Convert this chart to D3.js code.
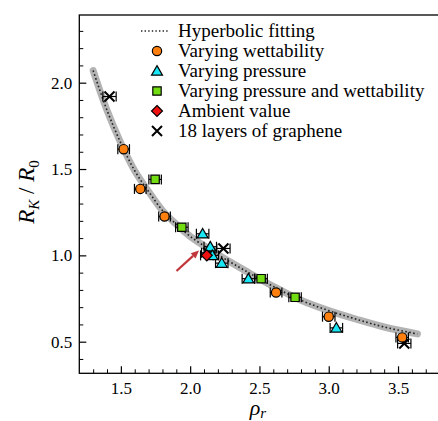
<!DOCTYPE html>
<html>
<head>
<meta charset="utf-8">
<script src="https://cdn.jsdelivr.net/npm/d3@7"></script>
<style>
  html, body { margin: 0; padding: 0; background: #fff; }
  svg { display: block; }
  svg text { font-family: 'Liberation Serif' !important; }
</style>
</head>
<body>
<svg id="chart" width="438" height="421"></svg>
<script>
// Hyperbolic fit, sampled along rho_r
const fitX = [1.30, 1.40, 1.50, 1.60, 1.70, 1.80, 1.90, 2.00, 2.15, 2.25, 2.40, 2.60, 2.80, 3.00, 3.20, 3.40, 3.64];
const fitY = [2.07, 1.84, 1.65, 1.49, 1.37, 1.26, 1.18, 1.11, 1.03, 0.98, 0.91, 0.82, 0.74, 0.68, 0.63, 0.585, 0.545];

// Varying wettability
const wetX   = [1.52, 1.64, 1.815, 2.62, 3.00, 3.53];
const wetY   = [1.615, 1.385, 1.225, 0.785, 0.645, 0.525];
const wetErr = [0.042, 0.042, 0.042, 0.042, 0.045, 0.045];

// Varying pressure
const presX   = [2.09, 2.145, 2.16, 2.228, 2.42, 3.055];
const presY   = [1.125, 1.05, 1.0, 0.955, 0.865, 0.58];
const presErr = [0.045, 0.045, 0.045, 0.045, 0.045, 0.045];

// Varying pressure and wettability
const bothX   = [1.747, 1.94, 2.512, 2.757];
const bothY   = [1.44, 1.163, 0.865, 0.757];
const bothErr = [0.045, 0.045, 0.045, 0.045];

// Ambient value
const ambX = [2.12];
const ambY = [1.0];
const ambErr = [0.045];

// 18 layers of graphene
const grX   = [1.418, 2.13, 2.24, 3.545];
const grY   = [1.92, 1.015, 1.04, 0.49];
const grErr = [0.048, 0.048, 0.048, 0.048];

const xTicks = [1.5, 2.0, 2.5, 3.0, 3.5];
const yTicks = [0.5, 1.0, 1.5, 2.0];

const legendLabels = [
  "Hyperbolic fitting",
  "Varying wettability",
  "Varying pressure",
  "Varying pressure and wettability",
  "Ambient value",
  "18 layers of graphene"
];

const svg = d3.select("#chart");
const L = 79.3, R = 439.6, T = 15, B = 373.3;

const x = d3.scaleLinear().domain([1.2, 3.8]).range([L, R]);
const y = d3.scaleLinear().domain([0.317, 2.392]).range([B, T]);

// frame
svg.append("rect")
  .attr("x", L).attr("y", T).attr("width", R - L).attr("height", B - T)
  .attr("fill", "none").attr("stroke", "#000").attr("stroke-width", 1.3);

// ticks (inward)
const minorX = d3.range(13, 38).map(d => d / 10).filter(v => !xTicks.some(t => Math.abs(t - v) < 1e-6));
const minorY = d3.range(4, 24).map(d => d / 10).filter(v => !yTicks.some(t => Math.abs(t - v) < 1e-6));

function styleAxis(g) {
  g.attr("font-family", null).attr("font-size", null);
  g.select(".domain").remove();
}

const gx = svg.append("g").attr("transform", `translate(0,${B})`)
  .call(d3.axisBottom(x).tickValues(xTicks).tickFormat(d3.format(".1f")).tickSize(-7).tickPadding(9));
styleAxis(gx);
gx.selectAll(".tick line").attr("stroke-width", 1.2);
gx.selectAll(".tick text").attr("font-size", 17).attr("fill", "#000");
const gxm = svg.append("g").attr("transform", `translate(0,${B})`)
  .call(d3.axisBottom(x).tickValues(minorX).tickSize(-4).tickFormat(""));
styleAxis(gxm);
gxm.selectAll(".tick line").attr("stroke-width", 1);

const gy = svg.append("g").attr("transform", `translate(${L},0)`)
  .call(d3.axisLeft(y).tickValues(yTicks).tickFormat(d3.format(".1f")).tickSize(-7).tickPadding(7));
styleAxis(gy);
gy.selectAll(".tick line").attr("stroke-width", 1.2);
gy.selectAll(".tick text").attr("font-size", 17).attr("fill", "#000");
const gym = svg.append("g").attr("transform", `translate(${L},0)`)
  .call(d3.axisLeft(y).tickValues(minorY).tickSize(-4).tickFormat(""));
styleAxis(gym);
gym.selectAll(".tick line").attr("stroke-width", 1);

// axis titles
const yl = svg.append("text")
  .attr("transform", `translate(34,192) rotate(-90)`)
  .attr("text-anchor", "middle").attr("font-size", 23).attr("font-style", "italic");
yl.append("tspan").text("R");
yl.append("tspan").attr("font-size", 15).attr("dy", 5).text("K");
yl.append("tspan").attr("dy", -5).attr("font-style", "normal").text(" / ");
yl.append("tspan").text("R");
yl.append("tspan").attr("font-size", 15).attr("dy", 5).attr("font-style", "normal").text("0");

const xl = svg.append("text")
  .attr("x", 258).attr("y", 415)
  .attr("text-anchor", "middle").attr("font-size", 22).attr("font-style", "italic");
xl.append("tspan").text("ρ");
xl.append("tspan").attr("font-size", 15).attr("dy", 3).text("r");

// fitted curve: grey band with dotted line
const fitPts = fitX.map((v, i) => [v, fitY[i]]);
const line = d3.line().x(d => x(d[0])).y(d => y(d[1])).curve(d3.curveCatmullRom);
svg.append("path").attr("d", line(fitPts))
  .attr("fill", "none").attr("stroke", "#b3b3b3").attr("stroke-width", 7).attr("stroke-linecap", "round");
svg.append("path").attr("d", line(fitPts))
  .attr("fill", "none").attr("stroke", "#222").attr("stroke-width", 1.6).attr("stroke-dasharray", "1.6,2.4");

// error bars
function errBars(xs, ys, es) {
  const g = svg.append("g").attr("stroke", "#000").attr("stroke-width", 1.2).attr("fill", "none");
  xs.forEach((v, i) => {
    const cy = y(ys[i]), x0 = x(v - es[i]), x1 = x(v + es[i]);
    g.append("line").attr("x1", x0).attr("x2", x1).attr("y1", cy).attr("y2", cy);
    g.append("line").attr("x1", x0).attr("x2", x0).attr("y1", cy - 5).attr("y2", cy + 5);
    g.append("line").attr("x1", x1).attr("x2", x1).attr("y1", cy - 5).attr("y2", cy + 5);
  });
}

// rotated-square diamond
const diamondWide = {
  draw(ctx, size) {
    const r = Math.sqrt(size / 2);
    ctx.moveTo(0, -r); ctx.lineTo(r, 0); ctx.lineTo(0, r); ctx.lineTo(-r, 0); ctx.closePath();
  }
};

const markers = {
  circle:   { type: d3.symbolCircle,   size: 68, fill: "#ff800e" },
  triangle: { type: d3.symbolTriangle, size: 52, fill: "#19e6f5" },
  square:   { type: d3.symbolSquare,   size: 70, fill: "#73dd14" },
  diamond:  { type: diamondWide,       size: 60, fill: "#f01010" }
};

function drawSym(g, m, cx, cy) {
  g.append("path")
    .attr("d", d3.symbol().type(m.type).size(m.size)())
    .attr("transform", `translate(${cx},${cy})`)
    .attr("fill", m.fill).attr("stroke", "#000").attr("stroke-width", 1.2);
}
function drawCross(g, cx, cy, r) {
  g.append("path")
    .attr("d", `M${cx - r},${cy - r}L${cx + r},${cy + r}M${cx - r},${cy + r}L${cx + r},${cy - r}`)
    .attr("stroke", "#000").attr("stroke-width", 2).attr("fill", "none");
}

errBars(grX, grY, grErr);
errBars(wetX, wetY, wetErr);
errBars(bothX, bothY, bothErr);
errBars(presX, presY, presErr);
errBars(ambX, ambY, ambErr);

const gm = svg.append("g");
grX.forEach((v, i) => drawCross(gm, x(v), y(grY[i]), 5));
wetX.forEach((v, i) => drawSym(gm, markers.circle, x(v), y(wetY[i])));
bothX.forEach((v, i) => drawSym(gm, markers.square, x(v), y(bothY[i])));
presX.forEach((v, i) => drawSym(gm, markers.triangle, x(v), y(presY[i]) + 1));
ambX.forEach((v, i) => drawSym(gm, markers.diamond, x(v), y(ambY[i])));

// arrow pointing at the ambient value
const ax0 = 176.5, ay0 = 271, ax1 = 199, ay1 = 250.5;
const ang = Math.atan2(ay1 - ay0, ax1 - ax0);
const hl = 8, hw = 3.6;
const bx = ax1 - hl * Math.cos(ang), by = ay1 - hl * Math.sin(ang);
svg.append("line")
  .attr("x1", ax0).attr("y1", ay0).attr("x2", bx).attr("y2", by)
  .attr("stroke", "#c0363a").attr("stroke-width", 2.2);
svg.append("path")
  .attr("d", `M${ax1},${ay1}L${bx - hw * Math.sin(ang)},${by + hw * Math.cos(ang)}L${bx + hw * Math.sin(ang)},${by - hw * Math.cos(ang)}Z`)
  .attr("fill", "#c0363a");

// legend
const lg = svg.append("g");
const lx = 157, ly0 = 31, ldy = 20;
lg.append("line").attr("x1", 141).attr("x2", 169).attr("y1", ly0).attr("y2", ly0)
  .attr("stroke", "#222").attr("stroke-width", 1.4).attr("stroke-dasharray", "1.4,2.2");
drawSym(lg, markers.circle, lx, ly0 + ldy);
drawSym(lg, markers.triangle, lx, ly0 + 2 * ldy + 1);
drawSym(lg, markers.square, lx, ly0 + 3 * ldy);
drawSym(lg, markers.diamond, lx, ly0 + 4 * ldy);
drawCross(lg, lx, ly0 + 5 * ldy, 5);
legendLabels.forEach((t, i) => {
  lg.append("text").attr("x", 178).attr("y", ly0 + i * ldy + 6)
    .attr("font-size", 19).attr("fill", "#000").text(t);
});
</script>
</body>
</html>
